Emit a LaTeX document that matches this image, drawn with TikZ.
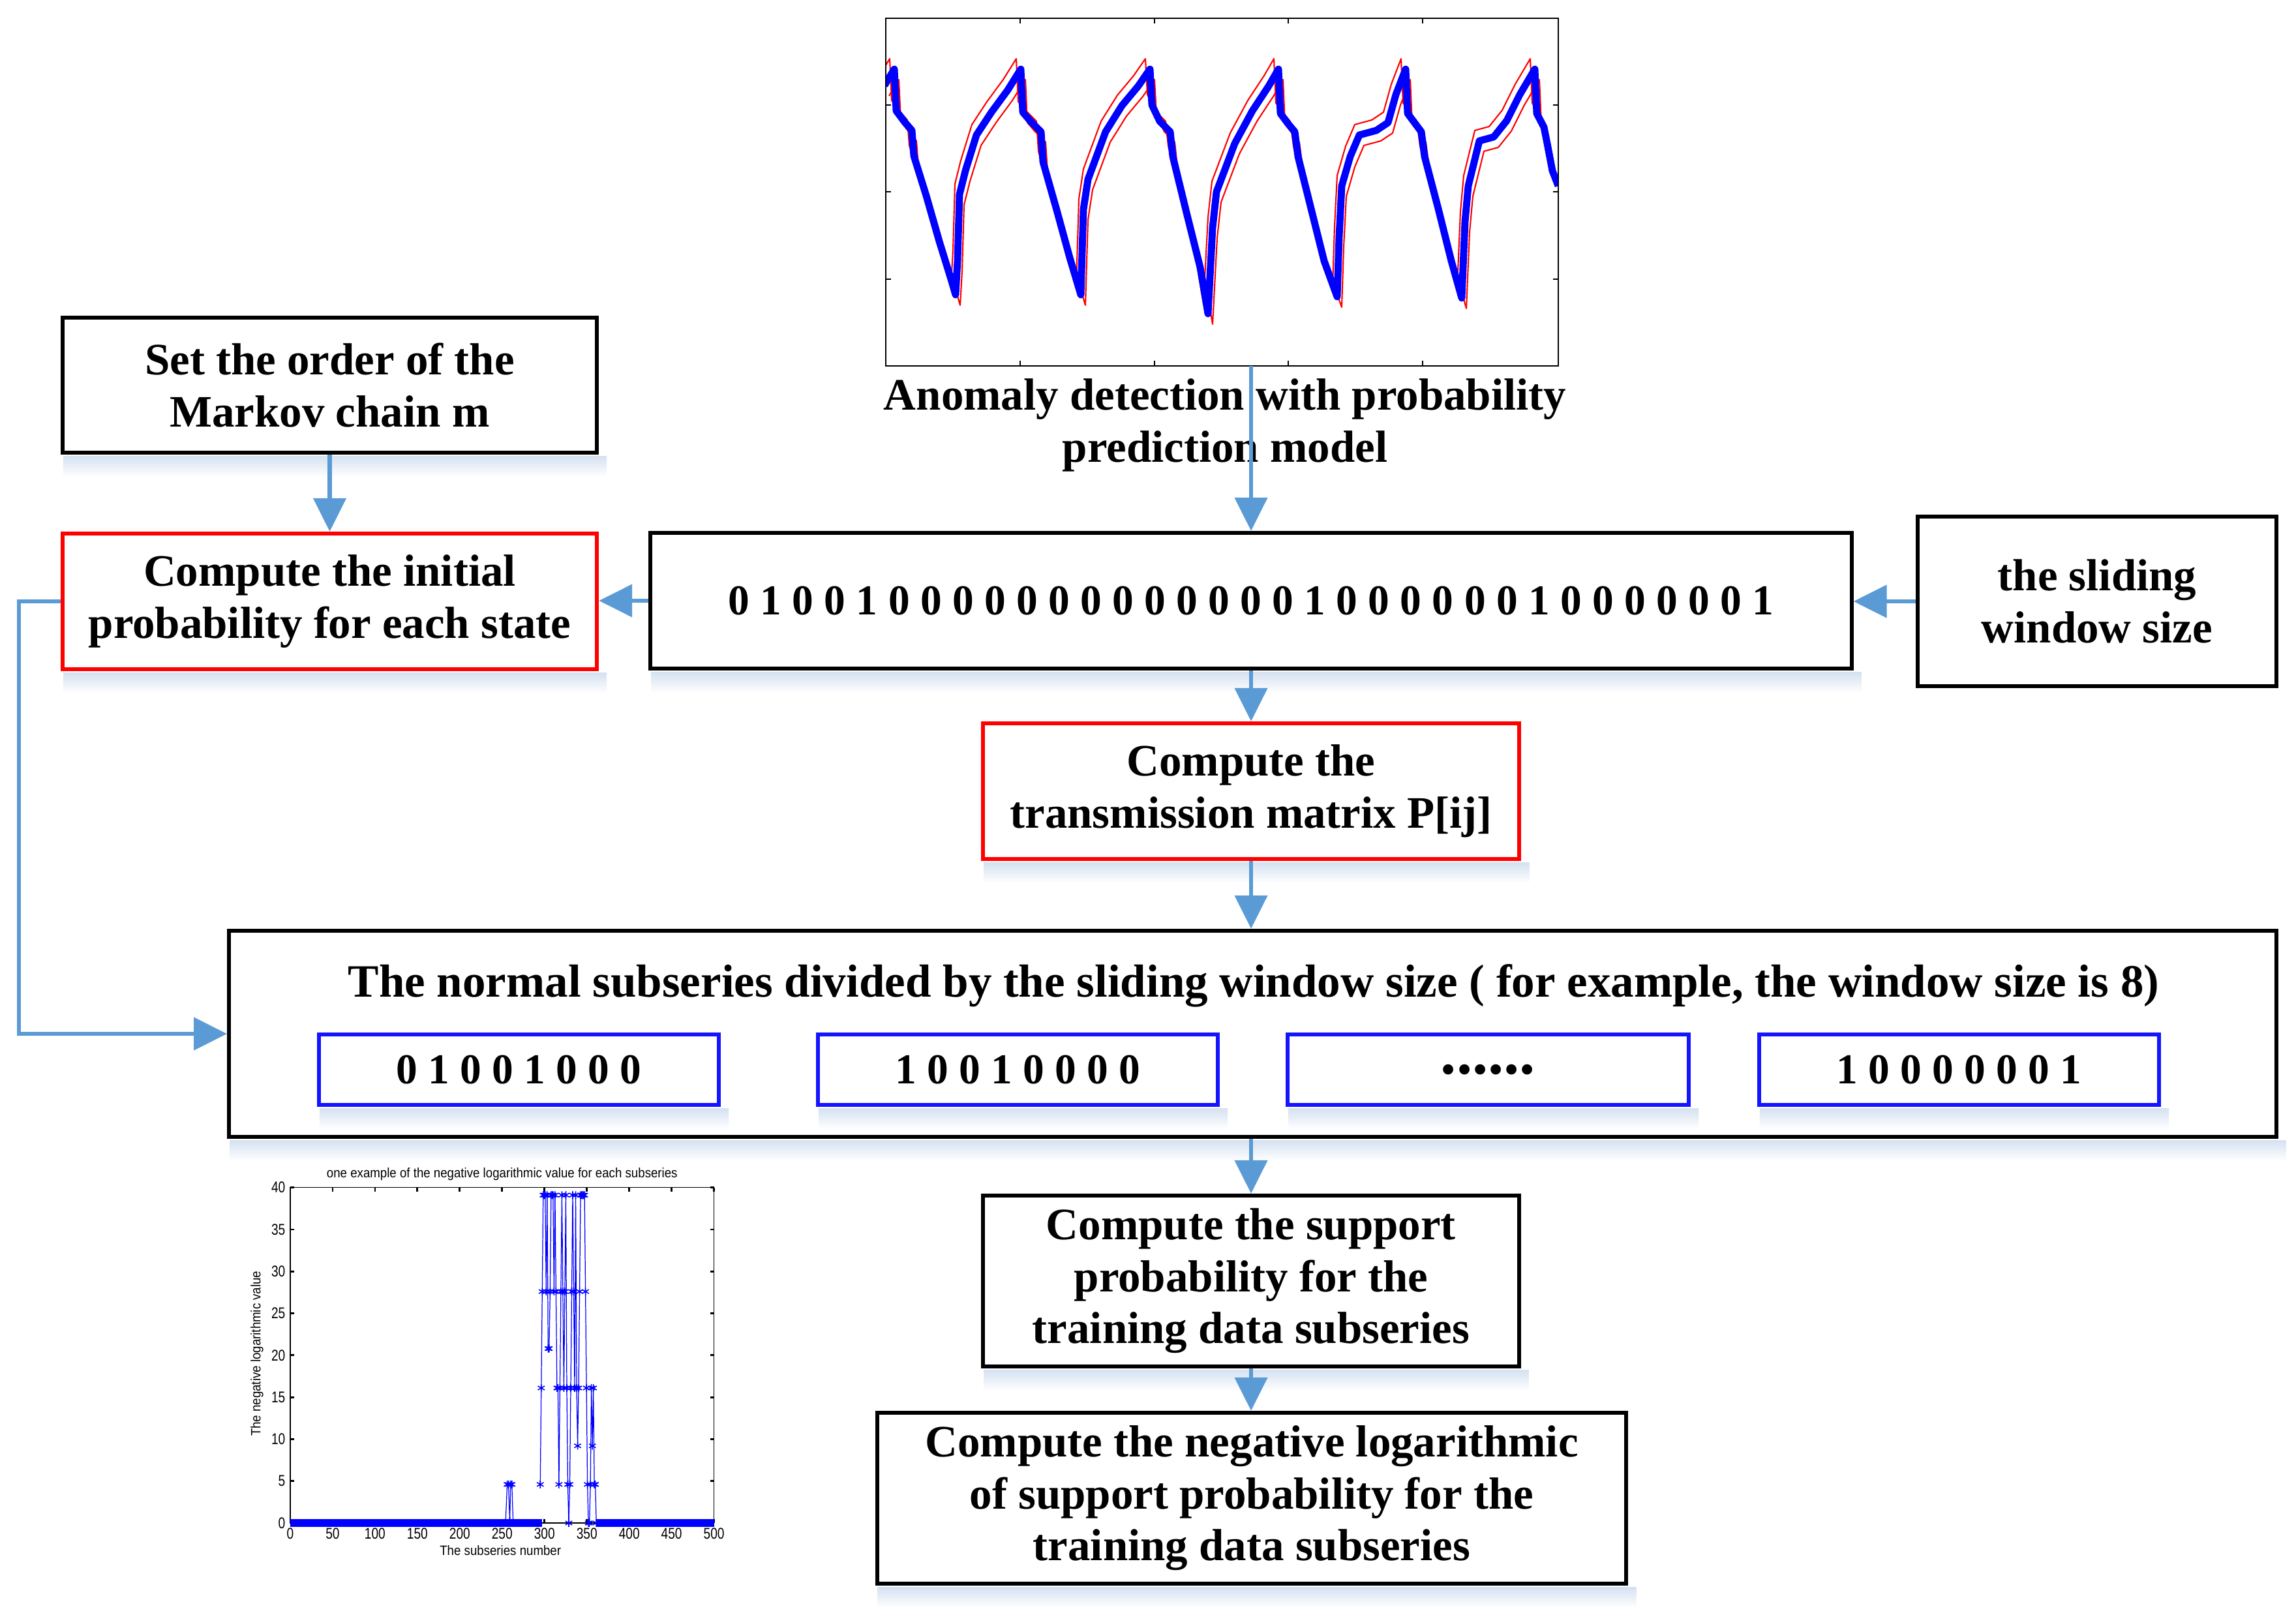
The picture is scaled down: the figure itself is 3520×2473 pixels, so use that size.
\documentclass[tikz,border=0pt]{standalone}
\usepackage{fontspec}
\setmainfont{Liberation Serif}
\newfontfamily\plotfont[FakeStretch=0.9]{Liberation Sans}
\newfontfamily\tickfont[FakeStretch=0.8]{Liberation Sans}
\usetikzlibrary{arrows.meta,backgrounds,plotmarks,calc}
\definecolor{arrowblue}{HTML}{5B9BD5}
\definecolor{boxred}{HTML}{FF0000}
\definecolor{boxblue}{HTML}{1414FF}
\definecolor{shadowc}{HTML}{D5E1F1}
\definecolor{plotblue}{HTML}{0000FF}
\newcommand\mainfs{\fontsize{19.6}{22.6}\selectfont\bfseries}
\newcommand\digfs{\fontsize{18.6}{22}\selectfont\bfseries}
\newcommand\boxshade[1]{\shade[top color=shadowc, bottom color=white] ($(#1.south west)+(4,2)$) rectangle ($(#1.south east)+(12,34)$);}
\tikzset{
  box/.style={draw=black, line width=1.7pt, inner sep=0pt, align=center, font=\mainfs},
  redbox/.style={box, draw=boxred},
  bluebox/.style={box, draw=boxblue, font=\digfs},
  arr/.style={draw=arrowblue, line width=1.9pt, -{Triangle[length=14.5pt,width=14pt]}},
  lbl/.style={inner sep=0pt, font=\mainfs, align=center},
  tick/.style={inner sep=0pt, font=\tickfont\fontsize{6.8}{7}\selectfont},
  plab/.style={inner sep=0pt, font=\plotfont\fontsize{5.9}{7}\selectfont},
}
\def\sig{(1356,131) -- (1371,106) -- (1374,170) -- (1386,186) -- (1398,200) -- (1401,239) -- (1420,300) -- (1440,370) -- (1458,428) -- (1465,452) -- (1468,400) -- (1471,298) -- (1480,262) -- (1497,207) -- (1520,172) -- (1545,138) -- (1565,106) -- (1568,172) -- (1580,186) -- (1596,202) -- (1599,248) -- (1620,322) -- (1640,395) -- (1657,452) -- (1661,321) -- (1668,275) -- (1695,202) -- (1720,162) -- (1745,132) -- (1763,106) -- (1766,161) -- (1778,186) -- (1794,202) -- (1798,240) -- (1820,330) -- (1840,410) -- (1852,481) -- (1859,349) -- (1865,294) -- (1893,220) -- (1920,170) -- (1945,132) -- (1960,106) -- (1963,174) -- (1975,190) -- (1985,202) -- (1990,240) -- (2010,320) -- (2030,400) -- (2050,455) -- (2053,363) -- (2057,285) -- (2070,240) -- (2084,207) -- (2110,200) -- (2128,188) -- (2140,145) -- (2155,106) -- (2158,174) -- (2170,190) -- (2179,202) -- (2184,240) -- (2205,320) -- (2225,400) -- (2241,457) -- (2246,340) -- (2251,285) -- (2268,216) -- (2290,210) -- (2310,185) -- (2330,145) -- (2353,106) -- (2356,174) -- (2367,195) -- (2372,220) -- (2380,262) -- (2389,285)}
\begin{document}
\begin{tikzpicture}[x=0.01cm, y=-0.01cm]
\useasboundingbox (0,0) rectangle (3520,2473);

% ---------- top plot ----------
\begin{scope}
  \clip (1358,28) rectangle (2389,561);
  \begin{scope}[shift={(-7,-16)}]
    \draw[boxred, line width=0.6pt, line join=round] \sig;
  \end{scope}
  \begin{scope}[shift={(7,16)}]
    \draw[boxred, line width=0.6pt, line join=round] \sig;
  \end{scope}
  \draw[plotblue, line width=3.1pt, line join=round] \sig;
\end{scope}
\draw[line width=0.6pt] (1358,28) rectangle (2389,561);
\foreach \t in {1564,1770,1975,2181} {
  \draw[line width=0.6pt] (\t,561) -- (\t,553);
  \draw[line width=0.6pt] (\t,28) -- (\t,36);
}
\foreach \t in {161,294,428} {
  \draw[line width=0.6pt] (1358,\t) -- (1366,\t);
  \draw[line width=0.6pt] (2389,\t) -- (2381,\t);
}
\coordinate (plotbot) at (1918,561);
\node[lbl] (caption) at (1878,652) {Anomaly detection with probability\\prediction model};

% ---------- boxes ----------
\node[box, minimum width=8.19cm, minimum height=2.07cm] (setorder) at (505.5,590.5) {Set the order of the\\Markov chain m};
\node[redbox, minimum width=8.19cm, minimum height=2.08cm] (initprob) at (505.5,922) {Compute the initial\\probability for each state};
\node[box, minimum width=18.40cm, minimum height=2.08cm, font=\digfs] (seq) at (1918,921) {0 1 0 0 1 0 0 0 0 0 0 0 0 0 0 0 0 0 1 0 0 0 0 0 0 1 0 0 0 0 0 0 1};
\node[box, minimum width=5.50cm, minimum height=2.60cm] (slide) at (3215,922) {the sliding\\window size};
\node[redbox, minimum width=8.22cm, minimum height=2.08cm] (trans) at (1918,1213) {Compute the\\transmission matrix P[ij]};
\node[box, minimum width=31.37cm, minimum height=3.16cm] (big) at (1920.5,1585) {};
\node[lbl, anchor=base, font=\fontsize{20.2}{23}\selectfont\bfseries] (bigtitle) at (1922,1528) {The normal subseries divided by the sliding window size ( for example, the window size is 8)};
\node[bluebox, minimum width=6.13cm, minimum height=1.08cm] (s1) at (795.5,1640) {0 1 0 0 1 0 0 0};
\node[bluebox, minimum width=6.13cm, minimum height=1.08cm] (s2) at (1560.5,1640) {1 0 0 1 0 0 0 0};
\node[bluebox, minimum width=6.15cm, minimum height=1.08cm, font=\fontsize{27.5}{30}\selectfont\bfseries] (s3) at (2281.5,1640) {......};
\node[bluebox, minimum width=6.13cm, minimum height=1.08cm] (s4) at (3003.5,1640) {1 0 0 0 0 0 0 1};
\node[box, minimum width=8.21cm, minimum height=2.62cm] (support) at (1918,1964) {Compute the support\\probability for the\\training data subseries};
\node[box, minimum width=11.48cm, minimum height=2.62cm] (neglog) at (1919,2297) {Compute the negative logarithmic\\of support probability for the\\training data subseries};

% ---------- shadows ----------
\begin{scope}[on background layer]
  \fill[white] (0,0) rectangle (3520,2473);
  \boxshade{setorder}
  \boxshade{initprob}
  \boxshade{seq}
  \boxshade{trans}
  \boxshade{big}
  \boxshade{s1}
  \boxshade{s2}
  \boxshade{s3}
  \boxshade{s4}
  \boxshade{support}
  \boxshade{neglog}
\end{scope}

% ---------- connectors ----------
\coordinate (lc) at (29,922);
\draw[arr] (setorder.south) -- (initprob.north);
\draw[arr] (plotbot) -- (seq.north);
\draw[arr] (slide.west) -- (slide.west -| seq.east);
\draw[arr] (seq.west) -- (seq.west -| initprob.east);
\draw[arr] (seq.south) -- (trans.north);
\draw[arr] (trans.south) -- (trans.south |- big.north);
\draw[arr] (support.north |- big.south) -- (support.north);
\draw[arr] (support.south) -- (support.south |- neglog.north);
\draw[arr] (initprob.west) -- (lc) |- (big.west);

% ---------- bottom-left plot ----------
\begin{scope}[shift={(445,2335)}, x=0.01298cm, y=0.1285cm]
  \draw[line width=0.35pt] (0,0) rectangle (500,40);
  \foreach \t in {0,50,...,500} {
    \draw[line width=0.8pt] (\t,0) -- (\t,0.45);
    \draw[line width=0.8pt] (\t,40) -- (\t,39.55);
    \node[tick, anchor=north] at (\t,-0.55) {\t};
  }
  \foreach \v in {0,5,...,40} {
    \draw[line width=0.8pt] (0,\v) -- (4.6,\v);
    \draw[line width=0.8pt] (500,\v) -- (495.4,\v);
    \node[tick, anchor=east] at (-5.4,\v) {\v};
  }
  \node[plab, anchor=base] (ptitle) at (250,41.17) {one example of the negative logarithmic value for each subseries};
  \node[plab, anchor=base] (pxlab) at (248,-3.81) {The subseries number};
  \node[plab, rotate=90] (pylab) at (-39.3,20.2) {The negative logarithmic value};
  \draw[plotblue, line width=3.2pt] (0,0) -- (297,0);
  \draw[plotblue, line width=3.2pt] (361,0) -- (500,0);
  \draw[plotblue, line width=0.35pt] plot[mark=asterisk, mark size=1.7pt, mark options={line width=0.45pt}] coordinates {
    (254,0) (256,4.6) (257.5,4.6) (259,0.2) (260,4.6) (261.5,4.6) (263,0)};
  \draw[plotblue, line width=0.35pt] plot[mark=asterisk, mark size=1.7pt, mark options={line width=0.45pt}] coordinates {
    (295,4.6) (296.16,16.1) (297.32,27.6) (298.48,39.1) (299.64,39.1) (300.8,39.1) (301.96,27.6) (303.12,39.1) (304.28,20.8) (305.44,20.8) (306.6,27.6) (307.76,39.1) (308.92,39.1) (310.08,39.1) (311.24,27.6) (312.4,39.1) (313.56,27.6) (314.72,16.1) (315.88,16.1) (317.04,4.6) (318.2,16.1) (319.36,27.6) (320.52,39.1) (321.68,27.6) (322.84,16.1) (324,27.6) (325.16,39.1) (326.32,16.1) (327.48,4.6) (328.64,0) (329.8,4.6) (330.96,16.1) (332.12,27.6) (333.28,39.1) (334.44,27.6) (335.6,16.1) (336.76,39.1) (337.92,16.1) (339.08,9.2) (340.24,16.1) (341.4,27.6) (342.56,39.1) (343.72,39.1) (344.88,39.1) (346.04,39.1) (347.2,39.1) (348.36,27.6) (349.52,16.1) (350.68,4.6) (351.84,0) (353,0) (354.16,4.6) (355.32,16.1) (356.48,9.2) (357.64,16.1) (358.8,4.6) (359.96,4.6) (361.12,0)};
\end{scope}
\end{tikzpicture}
\end{document}
